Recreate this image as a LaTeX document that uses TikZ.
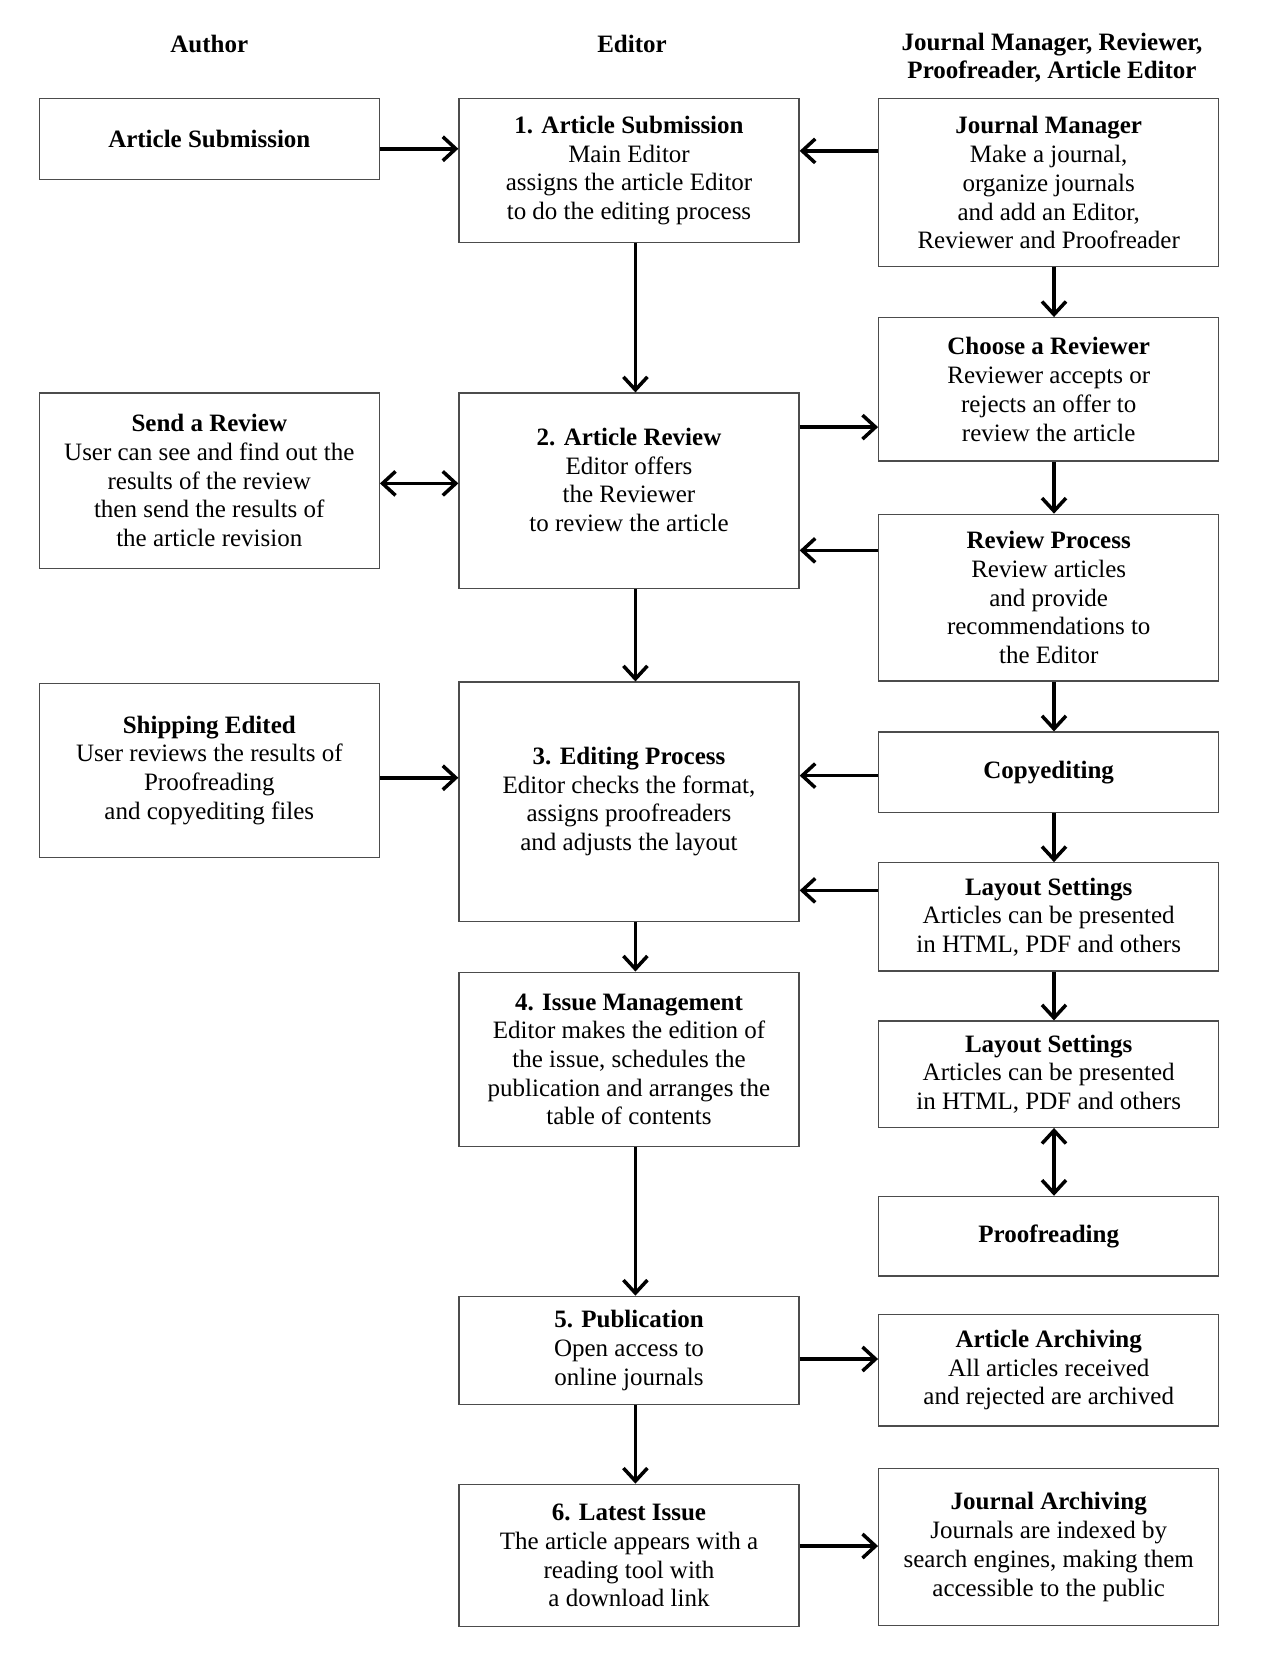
\documentclass[tikz,border=0pt]{standalone}
\usepackage{fontspec}
\setmainfont{Liberation Serif}
\usetikzlibrary{arrows.meta}
\begin{document}
\begin{tikzpicture}[x=1pt,y=-1pt,
  box/.style={draw=black!70, line width=1.3pt, rectangle, minimum width=340pt, inner sep=0pt, align=center, font=\fontsize{25}{28.7}\selectfont},
  head/.style={align=center, font=\fontsize{25}{28.7}\selectfont\bfseries, inner sep=0pt},
  arr/.style={-{Straight Barb[length=13pt,width=24pt]}, line width=3.5pt},
  darr/.style={{Straight Barb[length=13pt,width=24pt]}-{Straight Barb[length=13pt,width=24pt]}, line width=3.5pt}]
\useasboundingbox (0,0) rectangle (1261,1665);
% headers
\node[head] (hA) at (209.3,43.6) {Author};
\node[head] (hE) at (632,43.6) {Editor};
\node[head] (hJ) at (1052,57.9) {Journal Manager, Reviewer,\\Proofreader, Article Editor};
% left column
\node[box, minimum height=80.8pt] (as) at (209.3,139.2) {\textbf{Article Submission}};
\node[box, minimum height=175.4pt] (sr) at (209.3,480.7) {\textbf{Send a Review}\\User can see and find out the\\results of the review\\then send the results of\\the article revision};
\node[box, minimum height=174.2pt] (se) at (209.3,770.3) {\textbf{Shipping Edited}\\User reviews the results of\\Proofreading\\and copyediting files};
% middle column
\node[box, minimum height=143.5pt] (m1) at (629,170.55) {\textbf{1. Article Submission}\\Main Editor\\assigns the article Editor\\to do the editing process};
\node[box, minimum height=195.5pt, label={[name=m2t, yshift=11pt, align=center, inner sep=0pt, font=\fontsize{25}{28.7}\selectfont]center:{\textbf{2. Article Review}\\Editor offers\\the Reviewer\\to review the article}}] (m2) at (629,490.85) {};
\node[box, minimum height=239.1pt] (m3) at (629,801.65) {\textbf{3. Editing Process}\\Editor checks the format,\\assigns proofreaders\\and adjusts the layout};
\node[box, minimum height=174.2pt] (m4) at (629,1059.3) {\textbf{4. Issue Management}\\Editor makes the edition of\\the issue, schedules the\\publication and arranges the\\table of contents};
\node[box, minimum height=108.3pt] (m5) at (629,1350.45) {\textbf{5. Publication}\\Open access to\\online journals};
\node[box, minimum height=142.4pt] (m6) at (629,1555.5) {\textbf{6. Latest Issue}\\The article appears with a\\reading tool with\\a download link};
% right column
\node[box, minimum height=167.9pt] (jm) at (1048.7,182.75) {\textbf{Journal Manager}\\Make a journal,\\organize journals\\and add an Editor,\\Reviewer and Proofreader};
\node[box, minimum height=143.4pt] (cr) at (1048.7,389.4) {\textbf{Choose a Reviewer}\\Reviewer accepts or\\rejects an offer to\\review the article};
\node[box, minimum height=166.8pt] (rp) at (1048.7,597.7) {\textbf{Review Process}\\Review articles\\and provide\\recommendations to\\the Editor};
\node[box, minimum height=80.7pt] (ce) at (1048.7,772.45) {\textbf{Copyediting}};
\node[box, minimum height=108.3pt] (ls1) at (1048.7,916.95) {\textbf{Layout Settings}\\Articles can be presented\\in HTML, PDF and others};
\node[box, minimum height=106.2pt] (ls2) at (1048.7,1074.2) {\textbf{Layout Settings}\\Articles can be presented\\in HTML, PDF and others};
\node[box, minimum height=79.7pt] (pr) at (1048.7,1236.25) {\textbf{Proofreading}};
\node[box, minimum height=111.6pt] (aa) at (1048.7,1370.1) {\textbf{Article Archiving}\\All articles received\\and rejected are archived};
\node[box, minimum height=157.2pt] (ja) at (1048.7,1547) {\textbf{Journal Archiving}\\Journals are indexed by\\search engines, making them\\accessible to the public};
% horizontal connectors
\draw[arr] (as.east |- 0,148.75) -- (m1.west |- 0,148.75);
\draw[arr] (jm.west |- 0,150.9) -- (m1.east |- 0,150.9);
\draw[arr] (m2.east |- 0,427.1) -- (cr.west |- 0,427.1);
\draw[darr] (sr.east |- 0,483.4) -- (m2.west |- 0,483.4);
\draw[arr] (rp.west |- 0,550.4) -- (m2.east |- 0,550.4);
\draw[arr] (se.east |- 0,777.75) -- (m3.west |- 0,777.75);
\draw[arr] (ce.west |- 0,775.6) -- (m3.east |- 0,775.6);
\draw[arr] (ls1.west |- 0,890.4) -- (m3.east |- 0,890.4);
\draw[arr] (m5.east |- 0,1359) -- (aa.west |- 0,1359);
\draw[arr] (m6.east |- 0,1546) -- (ja.west |- 0,1546);
% vertical connectors, middle
\draw[arr] ([xshift=6.4pt]m1.south) -- ([xshift=6.4pt]m2.north);
\draw[arr] ([xshift=6.4pt]m2.south) -- ([xshift=6.4pt]m3.north);
\draw[arr] ([xshift=6.4pt]m3.south) -- ([xshift=6.4pt]m4.north);
\draw[arr] ([xshift=6.4pt]m4.south) -- ([xshift=6.4pt]m5.north);
\draw[arr] ([xshift=6.4pt]m5.south) -- ([xshift=6.4pt]m6.north);
% vertical connectors, right
\draw[arr] ([xshift=5.3pt]jm.south) -- ([xshift=5.3pt]cr.north);
\draw[arr] ([xshift=5.3pt]cr.south) -- ([xshift=5.3pt]rp.north);
\draw[arr] ([xshift=5.3pt]rp.south) -- ([xshift=5.3pt]ce.north);
\draw[arr] ([xshift=5.3pt]ce.south) -- ([xshift=5.3pt]ls1.north);
\draw[arr] ([xshift=5.3pt]ls1.south) -- ([xshift=5.3pt]ls2.north);
\draw[darr] ([xshift=5.3pt]ls2.south) -- ([xshift=5.3pt]pr.north);
\end{tikzpicture}
\end{document}
